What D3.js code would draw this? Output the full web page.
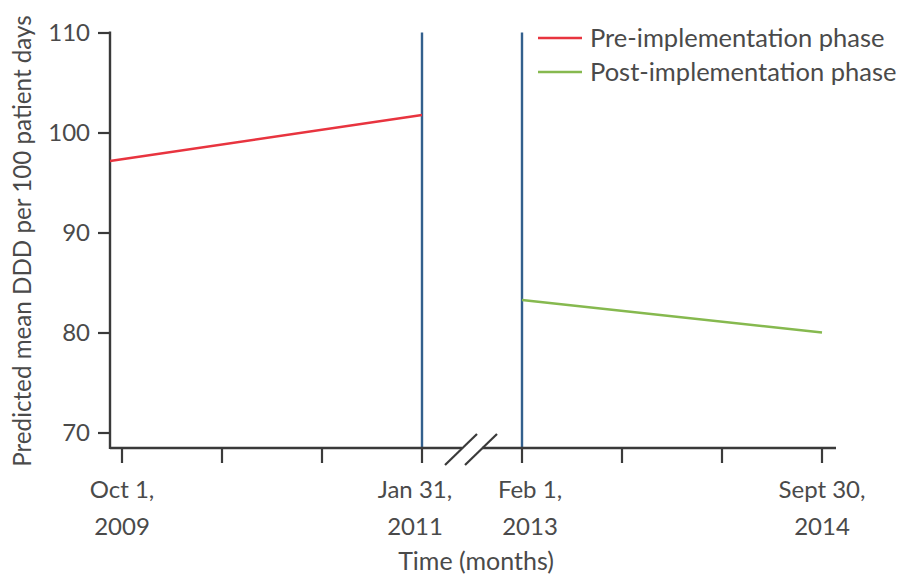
<!DOCTYPE html>
<html>
<head>
<meta charset="utf-8">
<script src="https://cdn.jsdelivr.net/npm/d3@7/dist/d3.min.js"></script>
<style>
  html, body { margin: 0; padding: 0; background: #fff; }
  svg { display: block; }
  text { font-family: Lato, "Open Sans", sans-serif; fill: #4a4a4a; }
</style>
</head>
<body>
<svg id="chart" width="898" height="575"></svg>
<script>
// ---- data ----
// x positions are measured in tick slots (0..3 pre-implementation, 4..7 post-implementation)
const tickSlots = [0, 1, 2, 3, 4, 5, 6, 7];
const tickLabels = [["Oct 1,", "2009"], null, null, ["Jan 31,", "2011"], ["Feb 1,", "2013"], null, null, ["Sept 30,", "2014"]];
const yTicks = [70, 80, 90, 100, 110];
const preSlots = [-0.12, 3];
const preValues = [97.15, 101.75];
const postSlots = [4, 7];
const postValues = [83.25, 80.0];
const phaseBoundaries = [3, 4];
const seriesNames = ["Pre-implementation phase", "Post-implementation phase"];
const seriesColors = ["#e8343f", "#86b94f"];

// ---- layout ----
const svg = d3.select("#chart");
const x = d3.scaleLinear().domain([0, 7]).range([122, 822]);
const y = d3.scaleLinear().domain([70, 110]).range([432.5, 32.5]);
const xAxisY = 448;
const xLeft = x(-0.12), xRight = x(7.14);
const ink = "#3a3a3a";

// blue phase boundary lines
svg.selectAll("line.boundary").data(phaseBoundaries).enter().append("line")
  .attr("class", "boundary")
  .attr("x1", d => x(d)).attr("x2", d => x(d))
  .attr("y1", y(110)).attr("y2", xAxisY)
  .attr("stroke", "#33608d").attr("stroke-width", 2.4);

// y axis
const yAxis = d3.axisLeft(y).tickValues(yTicks).tickSize(12).tickPadding(8).tickSizeOuter(0);
const gy = svg.append("g").attr("transform", `translate(${xLeft},0)`).call(yAxis);
gy.select(".domain").remove();
gy.append("line").attr("x1", 0).attr("x2", 0).attr("y1", y(110) - 1).attr("y2", xAxisY + 1)
  .attr("stroke", ink).attr("stroke-width", 2.4);
gy.selectAll(".tick line").attr("stroke", ink).attr("stroke-width", 2.2);
gy.selectAll(".tick text").attr("font-size", 24).style("fill", "#4a4a4a")
  .attr("font-family", "Lato, sans-serif");

// x axis line with break
const breakStart = 462, breakEnd = 482;
svg.append("line").attr("x1", xLeft).attr("x2", breakStart).attr("y1", xAxisY).attr("y2", xAxisY)
  .attr("stroke", ink).attr("stroke-width", 2.4);
svg.append("line").attr("x1", breakEnd).attr("x2", xRight).attr("y1", xAxisY).attr("y2", xAxisY)
  .attr("stroke", ink).attr("stroke-width", 2.4);
// break slashes
[breakStart, breakEnd].forEach(cx => {
  svg.append("line").attr("x1", cx - 17).attr("y1", xAxisY + 17).attr("x2", cx + 15).attr("y2", xAxisY - 14)
    .attr("stroke", ink).attr("stroke-width", 2.2);
});

// x ticks
svg.selectAll("line.xtick").data(tickSlots).enter().append("line")
  .attr("class", "xtick")
  .attr("x1", d => x(d)).attr("x2", d => x(d))
  .attr("y1", xAxisY).attr("y2", xAxisY + 15)
  .attr("stroke", ink).attr("stroke-width", 2.2);

// labels next to the break are nudged away from it
const nudge = d => (d === phaseBoundaries[0] ? -7 : d === phaseBoundaries[1] ? 8 : 0);
const labG = svg.selectAll("text.xlab").data(tickSlots.filter(d => tickLabels[d])).enter().append("text")
  .attr("class", "xlab")
  .attr("text-anchor", "middle")
  .attr("font-size", 24);
labG.append("tspan").attr("x", d => x(d) + nudge(d)).attr("y", 498).text(d => tickLabels[d][0]);
labG.append("tspan").attr("x", d => x(d) + nudge(d)).attr("y", 535).text(d => tickLabels[d][1]);

// series lines
const line = d3.line().x(d => x(d[0])).y(d => y(d[1]));
const series = [
  d3.zip(preSlots, preValues),
  d3.zip(postSlots, postValues)
];
svg.selectAll("path.series").data(series).enter().append("path")
  .attr("class", "series")
  .attr("d", line)
  .attr("fill", "none")
  .attr("stroke", (d, i) => seriesColors[i])
  .attr("stroke-width", 2.4);

// legend
const leg = svg.selectAll("g.leg").data(seriesNames).enter().append("g")
  .attr("class", "leg")
  .attr("transform", (d, i) => `translate(538, ${38 + i * 34})`);
leg.append("line").attr("x1", 0).attr("x2", 44).attr("y1", 0).attr("y2", 0)
  .attr("stroke", (d, i) => seriesColors[i]).attr("stroke-width", 2.4);
leg.append("text").attr("x", 52).attr("y", 9).attr("font-size", 25.5).text(d => d);

// axis titles
svg.append("text").attr("text-anchor", "middle")
  .attr("transform", "translate(31, 241) rotate(-90)")
  .attr("font-size", 24.2)
  .text("Predicted mean DDD per 100 patient days");
svg.append("text").attr("text-anchor", "middle")
  .attr("x", 476).attr("y", 570)
  .attr("font-size", 25)
  .text("Time (months)");
</script>
</body>
</html>
